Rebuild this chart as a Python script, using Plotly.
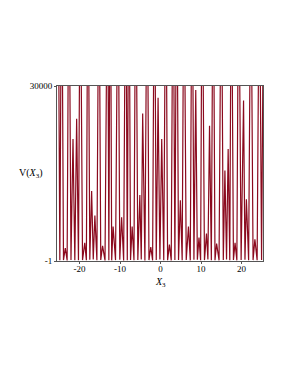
import plotly.graph_objects as go

# Curve vertices (x value, V value); tall spikes go far above the clipped top
x_vals = [
    -25.6, -25.4, -25.2, -24.85, -24.5, -24.3, -23.95, -23.5, -23.05, -22.7, -22.5, -22.1,
    -21.6, -21.15, -20.7, -20.25, -19.9, -19.7, -19.25, -18.7, -18.3, -18.0, -17.8, -17.45,
    -17.0, -16.6, -16.2, -15.7, -15.3, -15.1, -14.75, -14.3, -13.7, -13.2, -13.0, -12.75,
    -12.5, -12.3, -12.05, -11.7, -11.1, -10.6, -10.4, -10.05, -9.6, -9.1, -8.7, -8.5, -8.2,
    -7.9, -7.7, -7.4, -7.0, -6.55, -6.2, -6.0, -5.6, -5.1, -4.75, -4.4, -3.85, -3.4, -3.2,
    -2.85, -2.4, -1.95, -1.6, -1.4, -1.05, -0.6, -0.15, 0.3, 0.8, 1.2, 1.4, 1.75, 2.2, 2.65,
    3.0, 3.2, 3.55, 3.9, 4.1, 4.45, 4.9, 5.35, 5.7, 5.9, 6.35, 6.9, 7.35, 7.7, 7.9, 8.25,
    8.7, 9.1, 9.5, 9.9, 10.2, 10.4, 10.85, 11.35, 11.7, 12.1, 12.55, 12.9, 13.1, 13.45,
    13.85, 14.45, 14.9, 15.1, 15.5, 15.9, 16.3, 16.7, 17.1, 17.4, 17.6, 18.0, 18.4, 18.85,
    19.2, 19.4, 19.9, 20.5, 20.85, 21.2, 21.75, 22.2, 22.4, 22.85, 23.3, 23.85, 24.3, 24.5,
    24.95, 25.4,
]
v_vals = [
    45000, 45000, 45000, 120, 45000, 45000, 150, 2200, 90, 45000, 45000, 180,
    20900, 140, 24400, 110, 45000, 45000, 160, 3100, 120, 45000, 45000, 200,
    12000, 260, 7800, 130, 45000, 45000, 170, 2600, 90, 45000, 45000, 140,
    45000, 45000, 110, 5900, 150, 45000, 45000, 210, 7500, 100, 45000, 45000, 130,
    45000, 45000, 160, 5900, 120, 45000, 45000, 190, 11300, 240, 25300, 90, 45000, 45000,
    150, 2400, 110, 45000, 45000, 170, 28000, 260, 20900, 120, 45000, 45000, 140, 2800, 100,
    45000, 45000, 150, 45000, 45000, 180, 10400, 130, 45000, 45000, 160, 5900, 110, 45000, 45000, 200,
    29300, 230, 4000, 120, 45000, 45000, 150, 4700, 240, 23200, 110, 45000, 45000, 130,
    3000, 120, 45000, 45000, 190, 15500, 260, 19200, 140, 45000, 45000, 160, 3100, 110,
    45000, 45000, 190, 27500, 230, 10600, 130, 45000, 45000, 150, 3700, 120, 45000, 45000,
    160, 45000,
]

x_tick_vals = [-20, -10, 0, 10, 20]
x_tick_text = ["-20", "-10", "0", "10", "20"]
y_tick_vals = [-1, 30000]
y_tick_text = ["-1", "30000"]

line_color = "#8B0A1E"
frame_color = "#555555"
font_family = "Liberation Serif, Times New Roman, serif"

fig = go.Figure()
fig.add_trace(go.Scatter(
    x=x_vals, y=v_vals, mode="lines",
    line=dict(color=line_color, width=1.2),
    hoverinfo="skip", showlegend=False,
))

# page body has an 8px default margin, so the figure sits at (8, 8)
fig.update_layout(
    width=284, height=359,
    margin=dict(l=49, r=29, t=78, b=106),
    paper_bgcolor="white", plot_bgcolor="white",
    font=dict(family=font_family, size=9, color="black"),
    showlegend=False,
)
fig.update_xaxes(
    range=[-25.55, 25.3],
    tickvals=x_tick_vals, ticktext=x_tick_text,
    ticks="outside", ticklen=2, tickcolor=frame_color,
    showline=True, linecolor=frame_color, linewidth=1, mirror=True,
    showgrid=False, zeroline=False,
    tickfont=dict(family=font_family, size=9),
)
fig.update_yaxes(
    range=[-1, 30000],
    tickvals=y_tick_vals, ticktext=y_tick_text,
    ticks="outside", ticklen=2, tickcolor=frame_color,
    showline=True, linecolor=frame_color, linewidth=1, mirror=True,
    showgrid=False, zeroline=False,
    tickfont=dict(family=font_family, size=9),
)
try:
    fig.update_xaxes(ticklabelstandoff=-3)
except Exception:
    pass

fig.add_annotation(
    text="V(<i>X</i><sub>3</sub>)", xref="paper", yref="paper",
    x=-0.06, y=0.5, xanchor="right", yanchor="middle", showarrow=False,
    font=dict(family=font_family, size=10, color="black"),
)
fig.add_annotation(
    text="<i>X</i><sub>3</sub>", xref="paper", yref="paper",
    x=0.5, y=-0.075, xanchor="center", yanchor="top", showarrow=False,
    font=dict(family=font_family, size=10, color="black"),
)

fig.write_html("out.html")
